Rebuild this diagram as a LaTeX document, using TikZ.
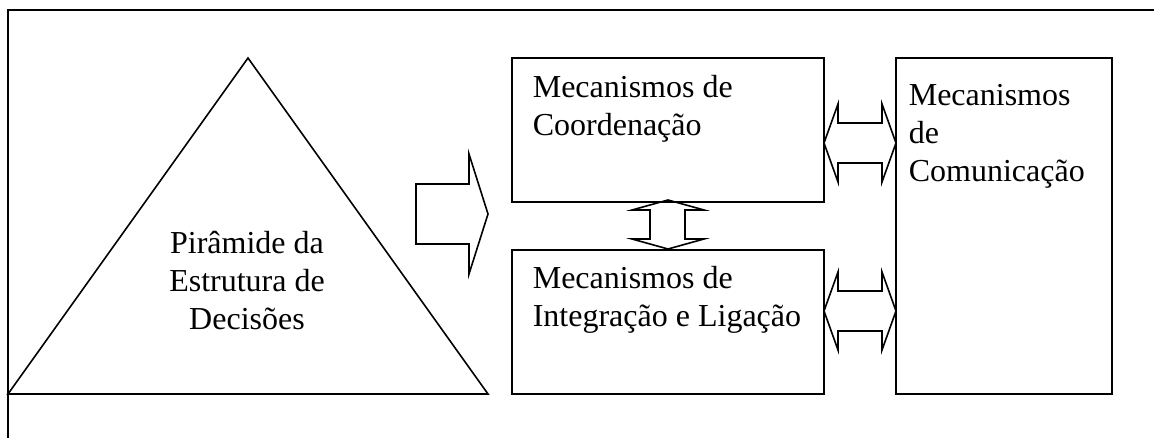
\documentclass[tikz,border=0pt]{standalone}
\usepackage{fontspec}
\setmainfont{Liberation Serif}
\begin{document}
\begin{tikzpicture}[x=1pt,y=-1pt,
  line width=1.6pt, line join=miter,
  box/.style={draw, line width=1.6pt, inner sep=0pt},
  lbl/.style={inner sep=0pt, anchor=base west, font=\fontsize{32}{38}\selectfont},
  clbl/.style={inner sep=0pt, anchor=base, font=\fontsize{32}{38}\selectfont},
  blockarrow/.style={draw, line width=1.6pt}]
\useasboundingbox (0,0) rectangle (1154,438);
% frame (top and left only)
\draw (8,438) -- (8,10) -- (1154,10);
% triangle
\coordinate (apex) at (248,58);
\coordinate (bl) at (8,394);
\coordinate (br) at (488,394);
\draw (apex) -- (br) -- (bl) -- cycle;
\node[clbl] (pyr) at (247,254) {\begin{tabular}[t]{@{}c@{}}Pirâmide da\\Estrutura de\\Decisões\end{tabular}};
% boxes
\node[box, minimum width=312pt, minimum height=144pt] (coord) at (668,130) {};
\node[box, minimum width=312pt, minimum height=144pt] (integ) at (668,322) {};
\node[box, minimum width=216pt, minimum height=336pt] (comm) at (1004,226) {};
\node[lbl] (tcoord) at (532,98) {\begin{tabular}[t]{@{}l@{}}Mecanismos de\\Coordenação\end{tabular}};
\node[lbl] (tinteg) at (532,289) {\begin{tabular}[t]{@{}l@{}}Mecanismos de\\Integração e Ligação\end{tabular}};
\node[lbl] (tcomm) at (908,106) {\begin{tabular}[t]{@{}l@{}}Mecanismos\\de\\Comunicação\end{tabular}};
% block arrow right
\draw[blockarrow] (416,184) -- (469,184) -- (469,154) -- (488,214) -- (469,274) -- (469,244) -- (416,244) -- cycle;
% vertical double arrow
\draw[blockarrow] (668,200) -- (704,210) -- (685,210) -- (685,239) -- (704,239) -- (668,249) -- (632,239) -- (650,239) -- (650,210) -- (632,210) -- cycle;
% horizontal double arrows
\draw[blockarrow] (824,143) -- (838,104) -- (838,123) -- (882,123) -- (882,104) -- (896,143) -- (882,182) -- (882,163) -- (838,163) -- (838,182) -- cycle;
\draw[blockarrow] (824,311) -- (838,272) -- (838,291) -- (882,291) -- (882,272) -- (896,311) -- (882,350) -- (882,331) -- (838,331) -- (838,350) -- cycle;
\end{tikzpicture}
\end{document}
